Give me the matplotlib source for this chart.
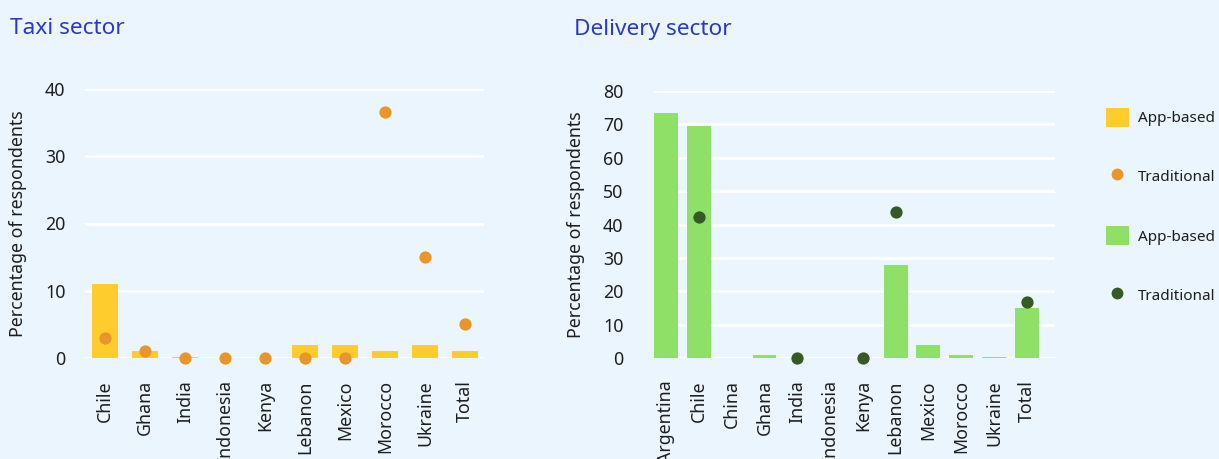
import matplotlib.pyplot as plt
import numpy as np
from matplotlib.patches import Patch
from matplotlib.lines import Line2D

plt.rcParams['font.family'] = ['Noto Sans', 'DejaVu Sans']

# taxi sector
taxi_countries = ["Chile", "Ghana", "India", "Indonesia", "Kenya", "Lebanon",
                  "Mexico", "Morocco", "Ukraine", "Total"]
taxi_app = [11, 1, 0.2, 0, 0, 2, 2, 1, 2, 1]
taxi_trad = [3, 1, 0, 0, 0, 0, 0, 36.6, 15, 5]

# delivery sector
deliv_countries = ["Argentina", "Chile", "China", "Ghana", "India", "Indonesia",
                   "Kenya", "Lebanon", "Mexico", "Morocco", "Ukraine", "Total"]
deliv_app = [73.4, 69.5, 0.1, 1, 0.1, 0.1, 0.1, 27.8, 3.9, 1, 0.2, 15]
deliv_trad = [np.nan, 42.2, np.nan, np.nan, 0, np.nan, 0, 43.8,
              np.nan, np.nan, np.nan, 16.9]

BG = "#EBF5FE"
YELLOW = "#FFCC2E"
ORANGE = "#E8952A"
GREEN = "#8EE066"
DKGREEN = "#355A25"
TITLE = "#2B38C8"
TXT = "#1E1E1E"
FS = 12.8


def draw_panel(ax, names, app, trad, bar_col, dot_col, yticks, width, xlim, ypad):
    ax.set_facecolor(BG)
    x = np.arange(len(names))
    ax.bar(x, app, width=width, color=bar_col, zorder=2)
    ax.scatter(x, trad, s=78, color=dot_col, zorder=3, clip_on=False, linewidths=0)
    ax.set_xlim(*xlim)
    ax.set_ylim(yticks[0], yticks[-1])
    ax.set_yticks(yticks)
    ax.set_xticks(x)
    ax.set_xticklabels(names, rotation=90, va="top")
    ax.grid(axis="y", color="white", linewidth=2, zorder=1)
    for s in ax.spines.values():
        s.set_visible(False)
    ax.tick_params(axis="both", length=0, labelsize=FS, labelcolor=TXT)
    ax.tick_params(axis="y", pad=ypad)
    ax.tick_params(axis="x", pad=16)
    ax.set_ylabel("Percentage of respondents", fontsize=FS, color=TXT)


fig = plt.figure(figsize=(12.19, 4.59), dpi=100, facecolor=BG)

ax1 = fig.add_axes([85 / 1219, 1 - 358 / 459, 399 / 1219, 269 / 459])
draw_panel(ax1, taxi_countries, taxi_app, taxi_trad, YELLOW, ORANGE,
           [0, 10, 20, 30, 40], 0.65, (-0.5, 9.475), 14)
ax1.yaxis.set_label_coords(-0.145, 0.5)

ax2 = fig.add_axes([654 / 1219, 1 - 358 / 459, 401 / 1219, 267 / 459])
draw_panel(ax2, deliv_countries, deliv_app, deliv_trad, GREEN, DKGREEN,
           [0, 10, 20, 30, 40, 50, 60, 70, 80], 0.73, (-0.37, 11.86), 22)
ax2.yaxis.set_label_coords(-0.172, 0.5)

fig.text(10 / 1219, 1 - 28 / 459, "Taxi sector", fontsize=16.3, color=TITLE, va="center")
fig.text(574 / 1219, 1 - 30 / 459, "Delivery sector", fontsize=16.3, color=TITLE, va="center")

handles = [
    Patch(facecolor=YELLOW, edgecolor="none"),
    Line2D([], [], marker="o", linestyle="none", markersize=7.5, color=ORANGE),
    Patch(facecolor=GREEN, edgecolor="none"),
    Line2D([], [], marker="o", linestyle="none", markersize=7.5, color=DKGREEN),
]
labels = ["App-based", "Traditional", "App-based", "Traditional"]
fig.legend(handles, labels, loc="upper left", bbox_to_anchor=(1106 / 1219, 1 - 108 / 459),
           frameon=False, fontsize=11, handlelength=1.5, handleheight=1.5,
           handletextpad=0.6, labelspacing=2.65, labelcolor=TXT, borderaxespad=0,
           borderpad=0)

fig.savefig("out.png", dpi=100, facecolor=BG)
